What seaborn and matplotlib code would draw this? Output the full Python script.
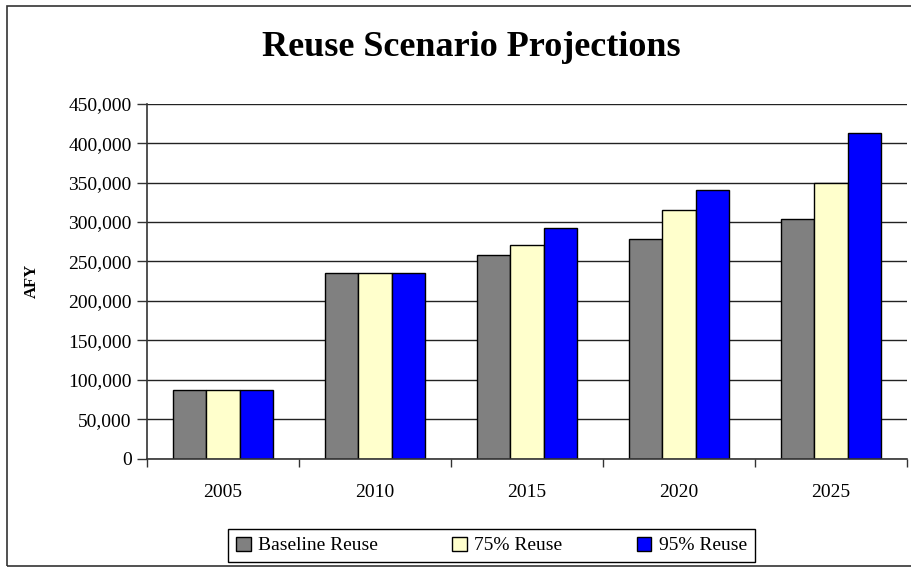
import matplotlib
matplotlib.use("Agg")
import matplotlib.pyplot as plt
import seaborn as sns
import pandas as pd
from matplotlib.patches import Rectangle
from matplotlib.ticker import FuncFormatter, FixedLocator

years = ["2005", "2010", "2015", "2020", "2025"]
baseline = [87500, 236000, 258500, 278500, 304000]
reuse75 = [87500, 236000, 271000, 315000, 349500]
reuse95 = [87500, 236000, 293000, 340500, 413000]
series_names = ["Baseline Reuse", "75% Reuse", "95% Reuse"]
colors = ["#808080", "#FFFFCC", "#0000FF"]

rows = []
for name, vals in zip(series_names, [baseline, reuse75, reuse95]):
    for y, v in zip(years, vals):
        rows.append({"Year": y, "Series": name, "AFY": v})
df = pd.DataFrame(rows)

sns.set_theme(style="white")
plt.rcParams["font.family"] = ["Liberation Serif", "DejaVu Serif"]
plt.rcParams["text.color"] = "black"
plt.rcParams["axes.labelcolor"] = "black"
plt.rcParams["xtick.color"] = "black"
plt.rcParams["ytick.color"] = "black"

fig = plt.figure(figsize=(9.11, 5.68), dpi=100)
ax = fig.add_axes([147/911, (568-458.7)/568, (907-147)/911, (458.7-103.7)/568])

sns.barplot(data=df, x="Year", y="AFY", hue="Series", palette=colors,
            width=0.66, dodge=True, edgecolor="black", linewidth=1.0,
            saturation=1, ax=ax, legend=True)

ax.set_ylim(0, 450000)
ax.set_xlim(-0.5, 4.5)
ax.yaxis.set_major_locator(FixedLocator(range(0, 450001, 50000)))
ax.yaxis.set_major_formatter(FuncFormatter(lambda v, p: f"{int(v):,}"))
ax.grid(axis="y", color="#222222", linewidth=1.0)
ax.set_axisbelow(True)
for s in ["top", "right"]:
    ax.spines[s].set_visible(False)
for s in ["left", "bottom"]:
    ax.spines[s].set_color("#333333")
    ax.spines[s].set_linewidth(1.2)

ax.tick_params(axis="y", which="major", direction="out", length=7, width=1,
               color="#333333", labelsize=14, pad=4, left=True)
ax.tick_params(axis="x", which="major", length=0, labelsize=14, pad=18)
ax.set_xticks([-0.5, 0.5, 1.5, 2.5, 3.5, 4.5], minor=True)
ax.tick_params(axis="x", which="minor", direction="out", length=6, width=1,
               color="#333333", bottom=True)

ax.set_xlabel("")
ax.set_ylabel("AFY", fontsize=12, fontweight="bold")
ax.yaxis.set_label_coords(-107/760, 0.5)

ax.legend_.remove()
handles, labels = ax.get_legend_handles_labels()
leg = fig.legend(handles, labels, loc="center",
                 bbox_to_anchor=(491.5/911, 1 - 545.5/568), ncol=3,
                 frameon=True, fancybox=False, edgecolor="black", framealpha=1,
                 fontsize=14, handlelength=0.75, handleheight=0.75,
                 handletextpad=0.4, columnspacing=3.8, borderpad=0.4,
                 borderaxespad=0)
leg.get_frame().set_linewidth(1.0)
for t in leg.get_texts():
    t.set_color("black")

fig.text(471/911, 1 - 47/568, "Reuse Scenario Projections", ha="center",
         va="center", fontsize=26, fontweight="bold", color="black")

fig.patches.append(Rectangle((7/911, 2/568), 1.2, (566-6)/568,
                             transform=fig.transFigure, fill=False,
                             edgecolor="#333333", linewidth=1.2))

fig.savefig("out.png", dpi=100)
